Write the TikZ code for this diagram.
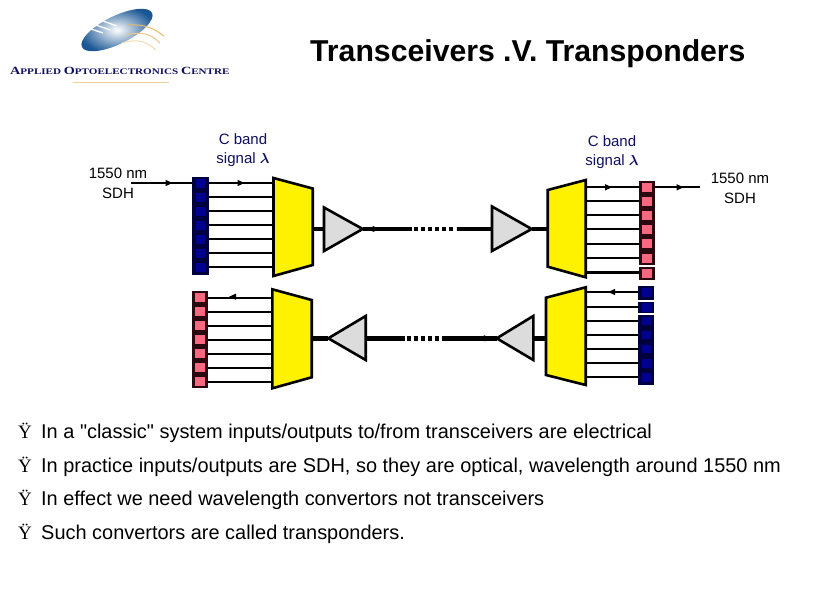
\documentclass[tikz,border=0pt]{standalone}
\usepackage{fontspec}
\setmainfont{Liberation Sans}
\newfontfamily\serifrm{Liberation Serif}
\newfontfamily\plainsans{Liberation Sans}
\newfontfamily\logofont[FakeStretch=1.29]{Liberation Serif}
\newcommand{\fs}[1]{\fontsize{#1}{#1}\selectfont}
\newcommand{\lam}{{\boldmath$\lambda$}}
\definecolor{labelnavy}{HTML}{101060}
\definecolor{banknavy}{HTML}{00003C}
\definecolor{cellnavy}{HTML}{000090}
\definecolor{bankdark}{HTML}{2A0810}
\definecolor{cellpink}{HTML}{F86880}
\definecolor{ampgrey}{HTML}{DCDCDC}
\definecolor{logoblue}{HTML}{1C5C9C}
\definecolor{logogold}{HTML}{E8B868}
\begin{document}
\begin{tikzpicture}[x=1pt,y=-1pt,
  fibre/.style={draw=black,line width=2.3pt},
  trunk/.style={draw=black,line width=4.4pt},
  dotline/.style={draw=black,line width=4.4pt,dash pattern=on 4.4pt off 2.6pt},
  mux/.style={draw=black,line width=2.6pt,fill=yellow,line join=miter},
  amp/.style={draw=black,line width=2.6pt,fill=ampgrey,line join=miter},
  navybank/.style={fill=banknavy},
  pinkbank/.style={fill=bankdark},
  navycell/.style={fill=cellnavy,minimum width=9pt,minimum height=8.5pt,inner sep=0pt},
  pinkcell/.style={fill=cellpink,minimum width=10pt,minimum height=9pt,inner sep=0pt},
  lab/.style={align=center,font=\fs{15},inner sep=0pt},
  headtext/.style={anchor=base west,inner sep=0pt,font=\bfseries\fs{30.2}},
  para/.style={anchor=base west,inner sep=0pt,font=\plainsans\fs{19.95}},
  bulletmark/.style={anchor=base west,inner sep=0pt,font=\serifrm\fs{19}},
  rtip/.pic={\fill (-3.5,-3.2)--(3.5,0)--(-3.5,3.2)--cycle;},
  ltip/.pic={\fill (3.5,-3.2)--(-3.5,0)--(3.5,3.2)--cycle;}]
\useasboundingbox (0,0) rectangle (839,592);
\fill[white] (0,0) rectangle (839,592);

% logo
\shade[rotate around={26:(117,30)},inner color=white,middle color=logoblue!70,outer color=logoblue!95!black]
  (117,30) ellipse [x radius=39,y radius=14];
\foreach \a/\b/\c/\d in {103/21/117/26,96/25/110/30,91/29/103/33}
  \draw[white,line width=1.3pt] (\a,\b)--(\c,\d);
\draw[logogold,line width=1pt] (128,25) .. controls (145,24) and (153,28) .. (164,36);
\draw[logogold!80,line width=1pt] (126,35) .. controls (142,31) and (151,34) .. (160,43);
\draw[logogold!50,line width=1pt] (122,43) .. controls (138,38) and (147,42) .. (156,50);
\node[anchor=base west,inner sep=0pt,text=labelnavy] (logotext) at (10,74)
  {\logofont\bfseries\fs{11}A\fs{8.6}PPLIED \fs{11}O\fs{8.6}PTOELECTRONICS \fs{11}C\fs{8.6}ENTRE};
\draw[logogold!70,line width=.8pt] (73,82)--(169,82);

% title
\node[headtext] (heading) at (310,61) {Transceivers .V. Transponders};

% labels
\node[lab,text=labelnavy] (cl) at (243,150) {C band\\[3.5pt]signal \lam};
\node[lab,text=labelnavy] (cr) at (612,152) {C band\\[3.5pt]signal \lam};
\node[lab] (sl) at (118,183) {1550 nm\\[5pt]SDH};
\node[lab] (sr) at (740,188) {1550 nm\\[5pt]SDH};

% top left bank and mux
\coordinate (inl) at (131,183);
\foreach \i/\y in {1/183,2/197,3/211,4/225,5/239,6/253,7/267}
  \coordinate (tl\i) at (208,\y);
\foreach \i/\y in {1/183,2/197,3/211,4/225,5/239,6/253,7/267}
  \draw[fibre] (tl\i) -- (274,\y);
\draw[fibre] (inl) -- (192,183);
\pic at (169,183) {rtip};
\pic at (241,183) {rtip};
\fill[navybank] (192,177) rectangle (208.5,275);
\foreach \i/\y in {1/183.5,2/197.5,3/211.5,4/225.5,5/239.5,6/253.5,7/267.5}
  \node[navycell] (tlc\i) at (200.2,\y) {};
\draw[mux] (273.5,178)--(312.7,188.5)--(312.7,265)--(273.5,276)--cycle;

% top link
\coordinate (a1in) at (324,229);
\coordinate (a1out) at (362.7,229);
\coordinate (a2in) at (492,229);
\coordinate (a2out) at (531.7,229);
\draw[trunk] (312.7,229) -- (a1in);
\draw[trunk] (a1out) -- (412,229);
\pic at (376,229) {rtip};
\draw[dotline] (414,229) -- (456,229);
\draw[trunk] (457,229) -- (a2in);
\draw[trunk] (a2out) -- (547.7,229);
\draw[amp] (324,207.5)--(a1out)--(324,251)--cycle;
\draw[amp] (492,206.5)--(a2out)--(492,251)--cycle;

% top right mux and bank
\foreach \y in {187.3,201.3,215.3,229.3,243.7,258,272.5}
  \draw[fibre] (586,\y) -- (640,\y);
\draw[mux] (547.7,190)--(585.7,180)--(585.7,277.3)--(547.7,266.7)--cycle;
\fill[pinkbank] (639.3,181) rectangle (655,265);
\fill[pinkbank] (639.3,266.8) rectangle (655,280);
\foreach \i/\y in {1/187.3,2/201.3,3/215.3,4/229.3,5/243.7,6/258,7/273}
  \node[pinkcell] (trc\i) at (647.2,\y) {};
\coordinate (outr) at (700,187.3);
\draw[fibre] (655,187.3) -- (outr);
\pic at (608.5,187.3) {rtip};
\pic at (680,187.3) {rtip};

% bottom left bank and mux
\foreach \y in {297.7,311.7,325.7,339.7,353.7,367.7,381.7}
  \draw[fibre] (208,\y) -- (273,\y);
\fill[pinkbank] (192.3,291) rectangle (208,388.3);
\foreach \i/\y in {1/297.7,2/311.7,3/325.7,4/339.7,5/353.7,6/367.7,7/381.7}
  \node[pinkcell] (blc\i) at (200.2,\y) {};
\pic at (232.7,296.7) {ltip};
\draw[mux] (272.3,289.3)--(311.7,300)--(311.7,377.3)--(272.3,388.3)--cycle;

% bottom link
\coordinate (b1in) at (365.7,338.3);
\coordinate (b1out) at (328.3,338.3);
\coordinate (b2in) at (533.3,338.3);
\coordinate (b2out) at (496.7,338.3);
\draw[trunk] (311.7,338.3) -- (b1out);
\draw[trunk] (b1in) -- (405,338.3);
\draw[dotline] (406.5,338.3) -- (441,338.3);
\draw[trunk] (442,338.3) -- (b2out);
\pic at (481.7,338.3) {ltip};
\draw[trunk] (b2in) -- (546,338.3);
\draw[amp] (365.7,316)--(b1out)--(365.7,360)--cycle;
\draw[amp] (533.3,316)--(b2out)--(533.3,360)--cycle;

% bottom right mux and bank
\foreach \y in {292,307.3,321,335,349,363.3,377.3}
  \draw[fibre] (586,\y) -- (639,\y);
\draw[mux] (546,297.7)--(585.7,287.3)--(585.7,385)--(546,375)--cycle;
\fill[navybank] (638.3,286) rectangle (654,300);
\fill[navybank] (638.3,301.6) rectangle (654,313.4);
\fill[navybank] (638.3,315) rectangle (654,385);
\foreach \i/\y in {1/292.5,2/307.3,3/321,4/335,5/349,6/363.3,7/377.3}
  \node[navycell] (brc\i) at (646.2,\y) {};
\pic at (611.7,292) {ltip};

% bullets
\foreach \i/\y/\t in {1/438.5/{In a "classic" system inputs/outputs to/from transceivers are electrical},
  2/472.5/{In practice inputs/outputs are SDH, so they are optical, wavelength around 1550 nm},
  3/505.5/{In effect we need wavelength convertors not transceivers},
  4/539.5/{Such convertors are called transponders.}}{
  \node[bulletmark] (m\i) at (18,\y) {Ÿ};
  \node[para] (p\i) at (41,\y) {\t};
}
\end{tikzpicture}
\end{document}
